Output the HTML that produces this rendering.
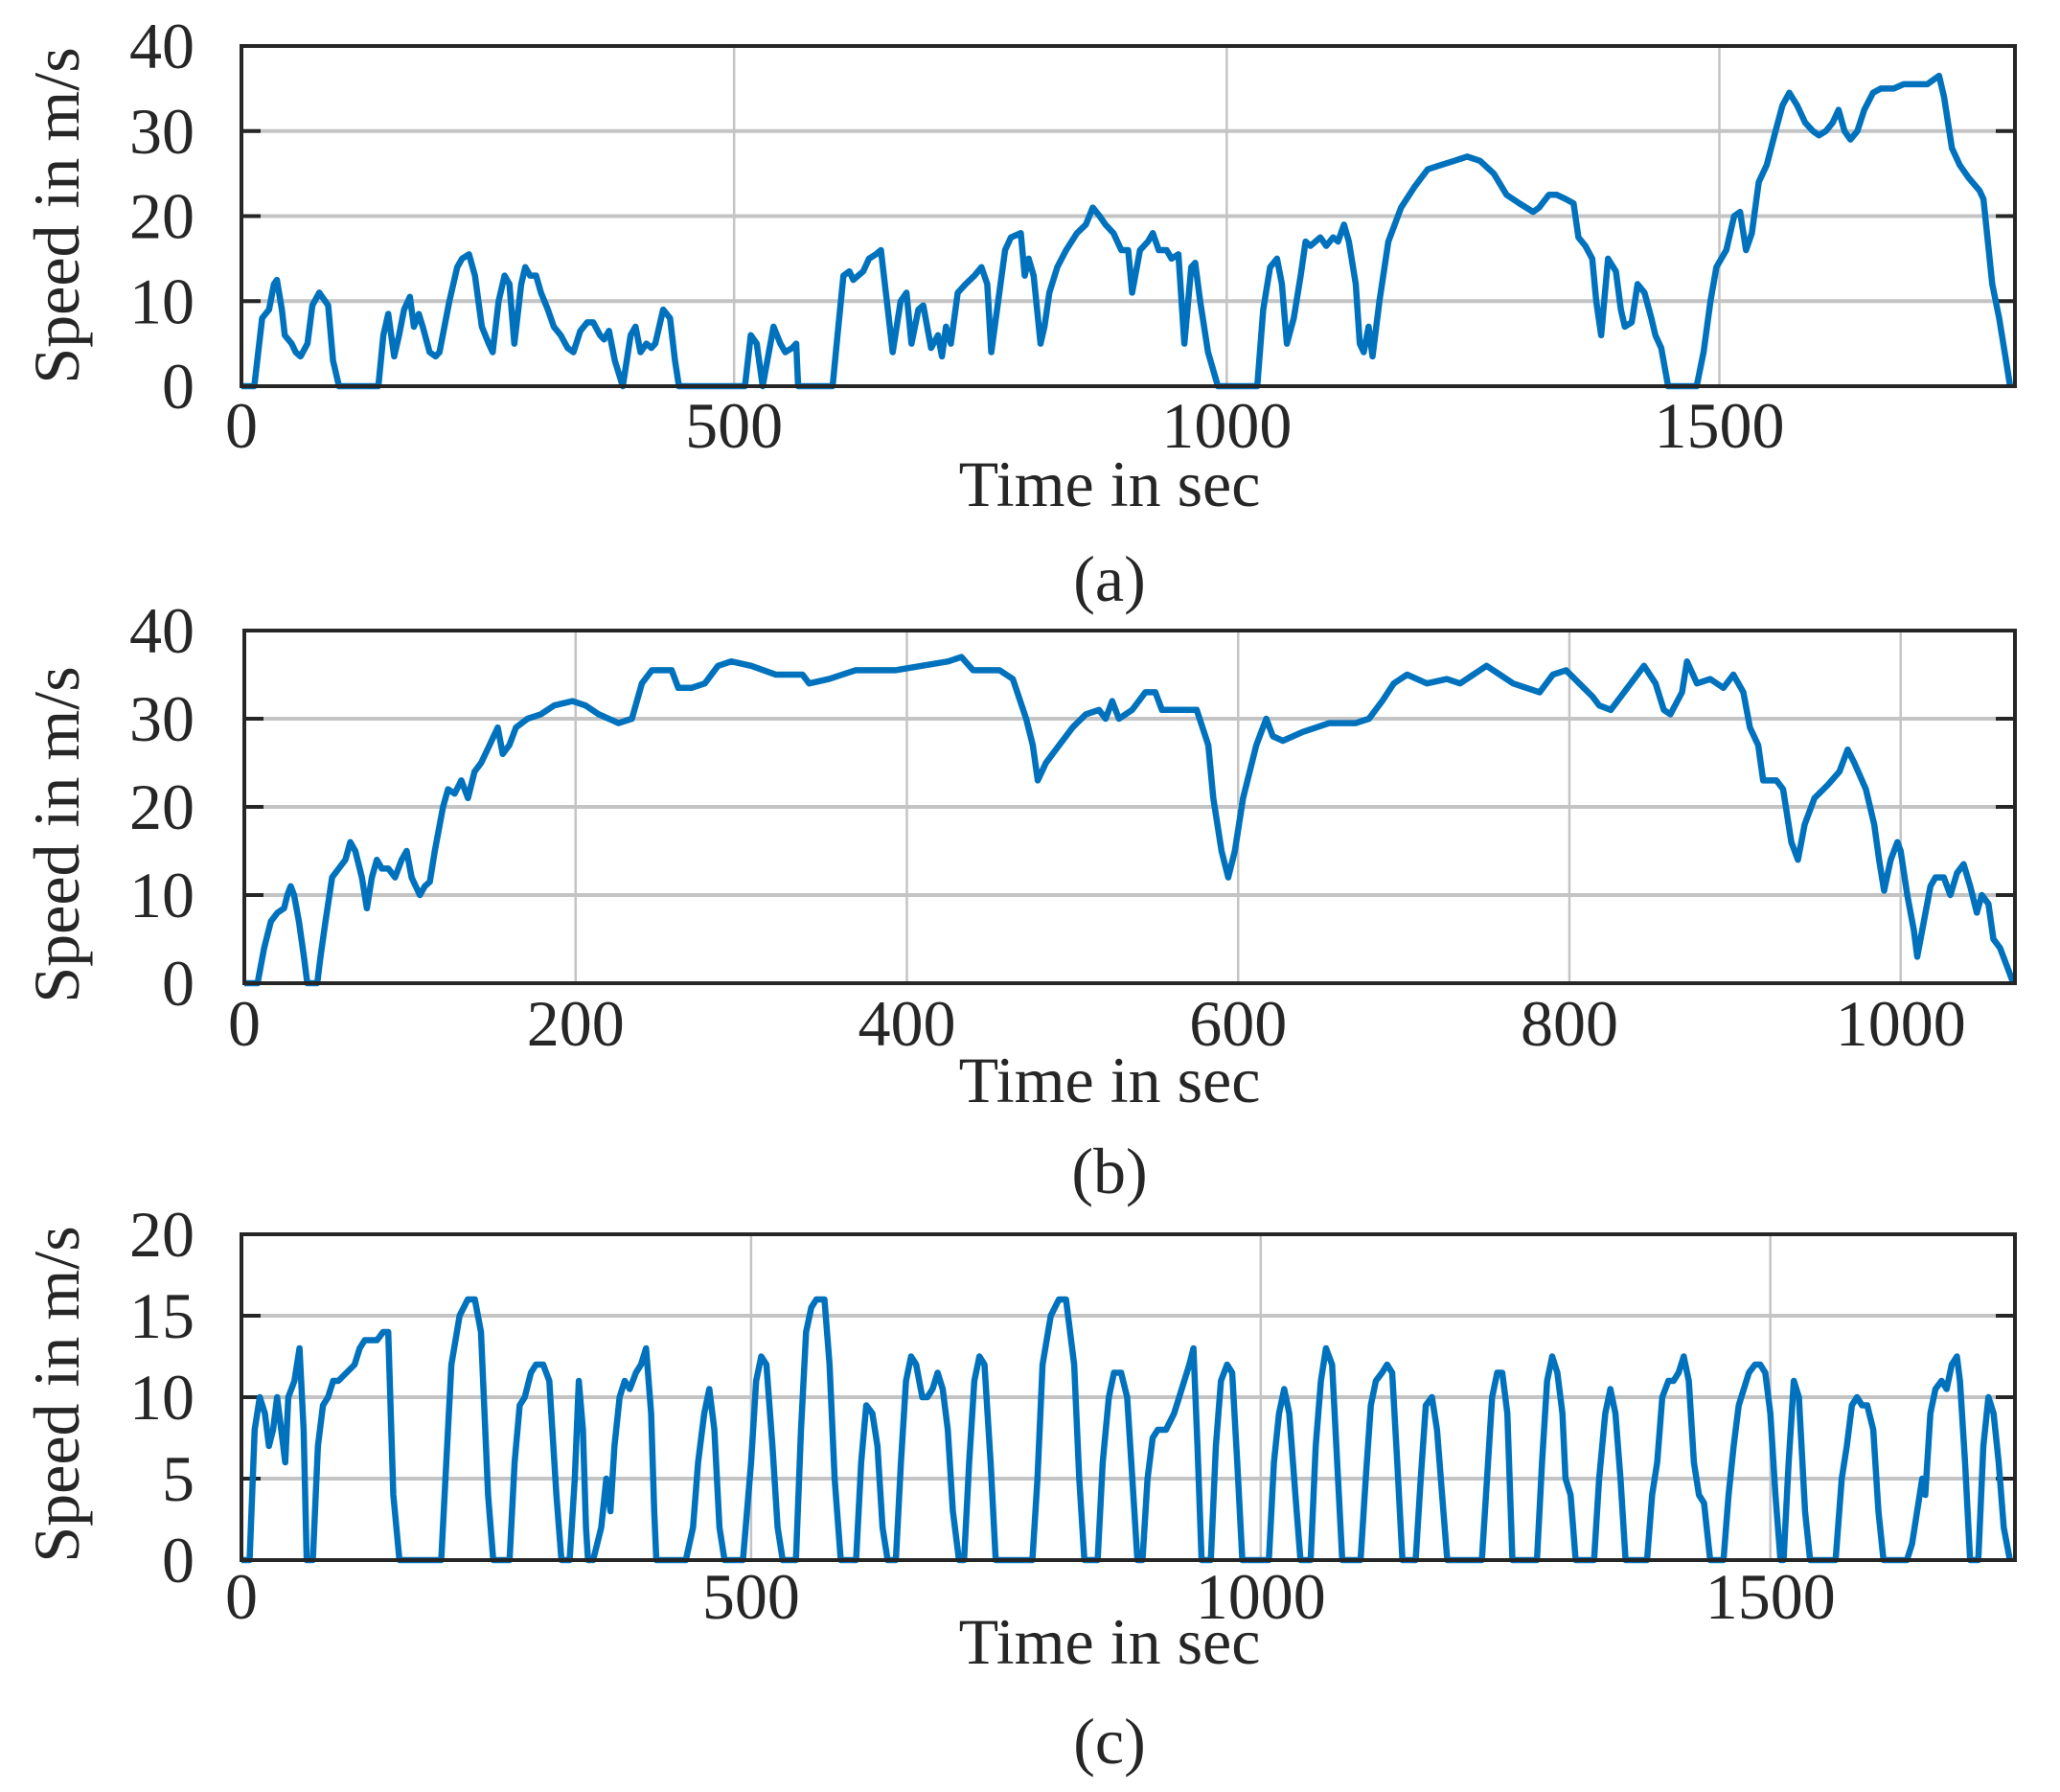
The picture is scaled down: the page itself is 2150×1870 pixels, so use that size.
<!DOCTYPE html>
<html><head><meta charset="utf-8"><style>
html,body{margin:0;padding:0;background:#fff;}
svg{display:block;}
text{font-family:"Liberation Serif","Times New Roman",serif;fill:#262626;font-size:68px;}
</style></head><body>
<svg id="fig" width="2150" height="1870" viewBox="0 0 2150 1870" xmlns="http://www.w3.org/2000/svg"></svg>
<script>
// Panel (a) data
const aTime=[0,13,21,28,33,36,41,44,51,55,60,67,72,79,88,93,99,139,144,149,155,160,165,171,175,180,184,191,197,201,211,219,224,231,237,244,251,255,261,267,272,277,284,288,293,299,304,311,317,324,331,337,344,351,357,364,368,373,379,387,395,400,405,411,416,420,428,435,440,444,511,517,523,529,540,547,552,559,563,565,600,605,611,617,621,631,637,644,649,655,661,669,675,680,687,692,700,707,711,715,720,727,735,744,751,757,761,768,775,781,791,795,799,804,811,815,820,828,837,848,857,864,871,877,885,893,900,904,912,920,925,931,939,944,951,957,964,968,973,981,991,1031,1037,1044,1051,1056,1061,1068,1075,1080,1085,1095,1101,1108,1113,1119,1124,1131,1135,1139,1144,1148,1155,1164,1177,1191,1204,1217,1231,1244,1257,1271,1284,1297,1311,1317,1327,1335,1344,1352,1357,1364,1371,1375,1380,1387,1395,1400,1404,1411,1417,1424,1431,1435,1441,1448,1477,1484,1491,1497,1507,1515,1521,1527,1533,1540,1548,1557,1564,1571,1579,1587,1595,1601,1608,1615,1621,1627,1633,1640,1647,1656,1664,1677,1687,1697,1704,1711,1717,1723,1728,1736,1744,1753,1764,1768,1777,1784,1791,1795];
const aSpeed=[0,0,8,9,12,12.5,9,6,5,4,3.5,5,9.5,11,9.5,3,0,0,6,8.5,3.5,6,9,10.5,7,8.5,7,4,3.5,4,10,14,15,15.5,13,7,5,4,10,13,12,5,12,14,13,13,11,9,7,6,4.5,4,6.5,7.5,7.5,6,5.5,6.5,3,0,6,7,4,5,4.5,5,9,8,3,0,0,6,5,0,7,5,4,4.5,5,0,0,6,13,13.5,12.5,13.5,15,15.5,16,10,4,10,11,5,9,9.5,4.5,6,3.5,7,5,11,12,13,14,12,4,10,16,17.5,18,13,15,13,5,7,11,14,16,18,19,21,20,19,18,16,16,11,16,17,18,16,16,15,15.5,5,14,14.5,10,4,0,0,9,14,15,12,5,8,13,17,16.5,17.5,16.5,17.5,17,19,17,12,5,4,7,3.5,10,17,21,23.5,25.5,26,26.5,27,26.5,25,22.5,21.5,20.5,21,22.5,22.5,22,21.5,17.5,16.5,15,10,6,15,13.5,9,7,7.5,12,11,8,6,4.5,0,0,4,10,14,16,20,20.5,16,18,24,26,30,33,34.5,33,31,30,29.5,30,31,32.5,30,29,30,32.5,34.5,35,35,35.5,35.5,35.5,35.5,36,36.5,34,28,26,24.5,23,22,12,8,3,0];
// Panel (b) data
const bTime=[0,8,12,16,20,24,26,28,30,33,36,38,44,46,49,53,57,61,64,67,71,74,77,80,83,87,91,95,98,101,106,109,112,115,120,123,127,131,135,139,143,148,153,156,160,164,171,179,187,198,206,214,226,234,240,246,258,262,270,278,286,294,306,321,337,341,353,369,393,409,425,433,440,456,464,472,476,479,484,492,500,508,516,520,524,528,536,544,550,554,560,567,575,582,585,590,594,598,603,611,617,621,627,639,655,671,679,687,694,702,714,726,734,742,750,758,766,774,782,790,798,806,814,818,825,833,841,845,852,857,861,868,871,877,885,893,899,905,909,914,917,925,929,934,938,942,948,956,963,968,972,979,984,987,990,994,998,1000,1004,1008,1010,1014,1018,1021,1026,1030,1034,1038,1042,1046,1049,1053,1056,1060,1064,1068];
const bSpeed=[0,0,4,7,8,8.5,10,11,10,7,3,0,0,3,7,12,13,14,16,15,12,8.5,12,14,13,13,12,14,15,12,10,11,11.5,15,20,22,21.5,23,21,24,25,27,29,26,27,29,30,30.5,31.5,32,31.5,30.5,29.5,30,34,35.5,35.5,33.5,33.5,34,36,36.5,36,35,35,34,34.5,35.5,35.5,36,36.5,37,35.5,35.5,34.5,30,27,23,25,27,29,30.5,31,30,32,30,31,33,33,31,31,31,31,27,21,15,12,15,21,27,30,28,27.5,28.5,29.5,29.5,30,32,34,35,34,34.5,34,35,36,35,34,33.5,33,35,35.5,34,32.5,31.5,31,33,35,36,34,31,30.5,33,36.5,34,34.5,33.5,35,33,29,27,23,23,22,16,14,18,21,22.5,24,26.5,25,22,18,14,10.5,14,16,15,10,6,3,7,11,12,12,10,12.5,13.5,11,8,10,9,5,4,2,0];
// Panel (c) data
const cTime=[0,8,13,18,23,27,31,35,39,43,46,52,57,61,64,70,75,80,85,90,95,103,111,116,121,126,133,139,144,149,155,196,201,206,214,222,229,235,242,247,263,268,273,278,284,289,296,302,309,314,322,327,331,335,338,340,345,349,353,358,362,366,371,376,381,387,392,397,402,405,407,436,443,448,454,459,464,469,474,492,500,505,510,515,521,526,531,544,549,554,559,564,572,577,582,588,603,608,613,619,624,629,634,642,647,652,657,662,668,673,678,683,688,693,698,704,709,714,719,724,729,735,740,776,781,786,794,802,809,817,822,827,840,845,851,856,863,869,874,879,884,889,894,899,907,915,920,925,930,934,938,942,951,956,961,967,972,977,982,1008,1013,1018,1023,1028,1034,1039,1049,1054,1059,1064,1070,1075,1080,1098,1103,1108,1113,1119,1124,1129,1134,1139,1152,1157,1162,1168,1173,1178,1183,1217,1222,1227,1232,1237,1242,1247,1271,1276,1281,1286,1291,1296,1299,1304,1309,1327,1332,1338,1343,1348,1353,1358,1379,1384,1389,1394,1400,1405,1410,1415,1420,1425,1430,1435,1441,1454,1459,1464,1469,1474,1479,1485,1490,1495,1500,1505,1510,1513,1518,1523,1528,1534,1539,1564,1570,1575,1580,1585,1590,1595,1601,1606,1611,1634,1639,1644,1649,1652,1657,1662,1668,1673,1678,1683,1686,1691,1696,1704,1709,1714,1719,1724,1729,1735];
const cSpeed=[0,0,8,10,9,7,8,10,8,6,10,11,13,8,0,0,7,9.5,10,11,11,11.5,12,13,13.5,13.5,13.5,14,14,4,0,0,6,12,15,16,16,14,4,0,0,6,9.5,10,11.5,12,12,11,4,0,0,5,11,8,2,0,0,1,2,5,3,7,10,11,10.5,11.5,12,13,9,3,0,0,2,6,9,10.5,8,2,0,0,6,11,12.5,12,7,2,0,0,8,14,15.5,16,16,12,5,0,0,6,9.5,9,7,2,0,0,6,11,12.5,12,10,10,10.5,11.5,10.5,8,3,0,0,6,11,12.5,12,6,0,0,5,12,15,16,16,12,5,0,0,6,10,11.5,11.5,10,5,0,0,5,7.5,8,8,9,10,11,12,13,7,0,0,7,11,12,11.5,6,0,0,6,9,10.5,9,4,0,0,7,11,13,12,6,0,0,5,9.5,11,11.5,12,11.5,6,0,0,5,9.5,10,8,4,0,0,5,10,11.5,11.5,9,0,0,6,11,12.5,11.5,9,5,4,0,0,5,9,10.5,9,5,0,0,4,6,10,11,11,11.5,12.5,11,6,4,3.5,0,0,4,7,9.5,10.5,11.5,12,12,11.5,9,4,0,0,6,11,10,3,0,0,5,7,9.5,10,9.5,9.5,8,3,0,0,1,3,5,4,9,10.5,11,10.5,12,12.5,11,6,0,0,7,10,9,6,2,0];
const aXTicks=[0,500,1000,1500], aYTicks=[0,10,20,30,40];
const bXTicks=[0,200,400,600,800,1000], bYTicks=[0,10,20,30,40];
const cXTicks=[0,500,1000,1500], cYTicks=[0,5,10,15,20];

const NS='http://www.w3.org/2000/svg';
const svg=document.getElementById('fig');
function mk(tag,attrs,parent){const e=document.createElementNS(NS,tag);for(const k in attrs)e.setAttribute(k,attrs[k]);(parent||svg).appendChild(e);return e;}

function panel(id,box,xmax,ymax,xt,yt,times,speeds,lay){
  const g=mk('g',{});
  
  
  const X=t=>box.l+(t/xmax)*(box.r-box.l);
  const Y=v=>box.b-(v/ymax)*(box.b-box.t);
  xt.forEach(t=>{if(t>0){const l=mk('line',{x1:X(t),x2:X(t),y1:box.t,y2:box.b,stroke:'#c4c4c4','stroke-width':2.5},g);
    
    }});
  yt.forEach(v=>{if(v>0&&v<ymax){const l=mk('line',{x1:box.l,x2:box.r,y1:Y(v),y2:Y(v),stroke:'#c4c4c4','stroke-width':4},g);
    
    }});
  yt.forEach(v=>{
    mk('line',{x1:box.l,x2:box.l+20,y1:Y(v),y2:Y(v),stroke:'#262626','stroke-width':4},g);
    mk('line',{x1:box.r-20,x2:box.r,y1:Y(v),y2:Y(v),stroke:'#262626','stroke-width':4},g);
    const tx=mk('text',{x:203,y:Y(v)+23,'text-anchor':'end'},g);tx.textContent=v;
    
    
  });
  xt.forEach(t=>{
    const tx=mk('text',{x:X(t),y:lay.tickY,'text-anchor':'middle'},g);tx.textContent=t;
    
    
  });
  let d='';times.forEach((t,i)=>{d+=(i?'L':'M')+X(t).toFixed(1)+' '+Y(speeds[i]).toFixed(1);});
  const p=mk('path',{d:d,fill:'none',stroke:'#0072BD','stroke-width':6.5,'stroke-linejoin':'round'},g);
  
  
  const r=mk('rect',{x:box.l,y:box.t,width:box.r-box.l,height:box.b-box.t,fill:'none',stroke:'#262626','stroke-width':4},g);
  
  
  const xl=mk('text',{x:1158,y:lay.titleY,'text-anchor':'middle'},g);xl.textContent='Time in sec';
  
  
  const yl=mk('text',{x:0,y:0,'text-anchor':'middle',transform:'translate(82,'+lay.ylabY+') rotate(-90)'},g);yl.textContent='Speed in m/s';
  
  
  const cap=mk('text',{x:1158,y:lay.capY,'text-anchor':'middle'},g);cap.textContent='('+id+')';
  
  
}
panel('a',{l:252,r:2103,t:48,b:403},1800,40,aXTicks,aYTicks,aTime,aSpeed,{tickY:467,titleY:528,ylabY:225,capY:627});
panel('b',{l:255,r:2103,t:658,b:1026},1069,40,bXTicks,bYTicks,bTime,bSpeed,{tickY:1091,titleY:1150,ylabY:871,capY:1245});
panel('c',{l:252,r:2103,t:1288,b:1628},1740,20,cXTicks,cYTicks,cTime,cSpeed,{tickY:1689,titleY:1736,ylabY:1455,capY:1840});
</script>
</body></html>
